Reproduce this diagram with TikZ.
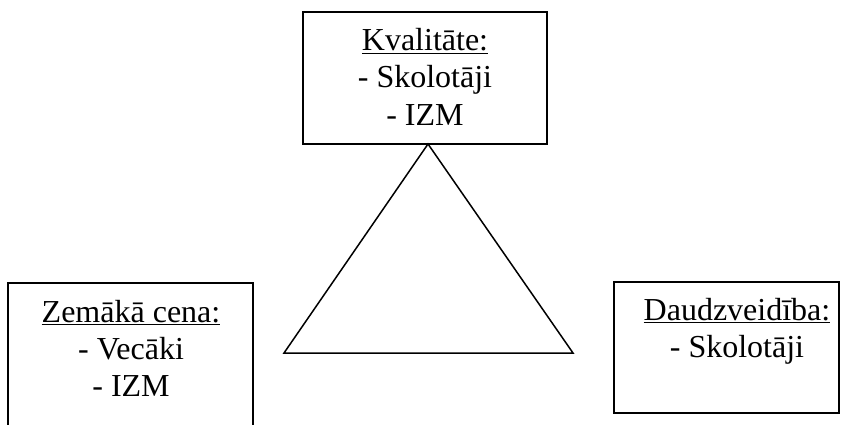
\documentclass[tikz,border=0pt]{standalone}
\usepackage{fontspec}
\setmainfont{Liberation Serif}
\begin{document}
\begin{tikzpicture}[x=1pt,y=-1pt,
  boxline/.style={draw=black,line width=1.8pt,rectangle,inner sep=0pt},
  txt/.style={align=center,font=\fontsize{32}{37}\selectfont,inner sep=0pt,anchor=base},
  triline/.style={draw=black,line width=1.5pt,line join=miter}]
\useasboundingbox (0,0) rectangle (848,425);
\clip (0,0) rectangle (848,425);
% boxes
\node[boxline,minimum width=244pt,minimum height=132pt] (top) at (425,78) {};
\node[boxline,minimum width=245pt,minimum height=170pt] (left) at (130.5,368) {};
\node[boxline,minimum width=225pt,minimum height=131pt] (right) at (726.5,347.5) {};
% texts (anchored at the baseline of the last line)
\node[txt] (toptxt) at (425,125) {\underline{Kvalitāte:}\\- Skolotāji\\- IZM};
\node[txt] (lefttxt) at (131,396) {\underline{Zemākā cena:}\\- Vecāki\\- IZM};
\node[txt] (righttxt) at (737,357) {\underline{Daudzveidība:}\\- Skolotāji};
% triangle
\coordinate (apex) at (428,144);
\coordinate (bl) at (284,353);
\coordinate (br) at (573,353);
\draw[triline] (apex) -- (bl) -- (br) -- cycle;
\end{tikzpicture}
\end{document}
